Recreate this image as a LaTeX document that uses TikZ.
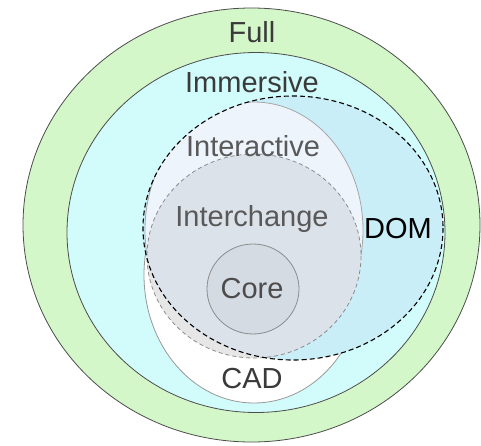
\documentclass[tikz,border=0pt]{standalone}
\usepackage{fontspec}
\setmainfont{Liberation Sans}
\usetikzlibrary{positioning}

\definecolor{fullgreen}{HTML}{D4F7C9}
\definecolor{immcyan}{HTML}{D2FBFB}
\definecolor{domblue}{HTML}{C9EEF8}
\definecolor{interact}{HTML}{EDF4FC}
\definecolor{xchange}{HTML}{DCE2EA}
\definecolor{coregray}{HTML}{D5DBE3}
\definecolor{lensgray}{HTML}{E6E6E6}
\definecolor{txtgray}{HTML}{3A3A3A}

\tikzset{
  ring/.style={draw=black!70, line width=0.8pt},
  dashring/.style={draw=black!45, dashed, line width=0.8pt, dash pattern=on 4pt off 3pt},
  domline/.style={draw=black, dashed, line width=1.1pt, dash pattern=on 5pt off 3pt},
  lbl/.style={text=txtgray, font=\fontsize{29}{31}\selectfont, inner sep=0pt}
}

\begin{document}
\begin{tikzpicture}[x=1pt, y=-1pt]
    \useasboundingbox (0,0) rectangle (481,445);
    % profile sets
    \fill[fullgreen, ring] (251.5,225) ellipse [x radius=228.5, y radius=217];
    \fill[immcyan, ring] (256,232.5) ellipse [x radius=189, y radius=180];
    \fill[white, draw=black!40, line width=0.8pt] (254,275) ellipse [x radius=110, y radius=128];
    \fill[lensgray, dashring] (254,256) ellipse [x radius=107, y radius=102];
    \begin{scope}
        \clip (293,228) ellipse [x radius=150, y radius=132];
        \fill[domblue] (293,228) ellipse [x radius=150, y radius=132];
        \fill[interact, draw=black!35, line width=0.8pt] (254,230) ellipse [x radius=109, y radius=128];
        \fill[xchange, dashring] (254,256) ellipse [x radius=107, y radius=102];
    \end{scope}
    \draw[domline] (293,228) ellipse [x radius=150, y radius=132];
    \fill[coregray, draw=black!45, line width=0.8pt] (253,289) ellipse [x radius=46, y radius=45];

    % labels
    \node[lbl] (full) at (252,32) {Full};
    \node[lbl] (imm) at (252,82) {Immersive};
    \node[lbl, text=black!65] (inter) at (253,146) {Interactive};
    \node[lbl, text=black!65] (xchg) at (252,219) {Interchange};
    \node[lbl, text=black] (dom) at (398,229) {DOM};
    \node[lbl, text=black!70] (core) at (252,289) {Core};
    \node[lbl] (cad) at (252,379) {CAD};
\end{tikzpicture}
\end{document}
